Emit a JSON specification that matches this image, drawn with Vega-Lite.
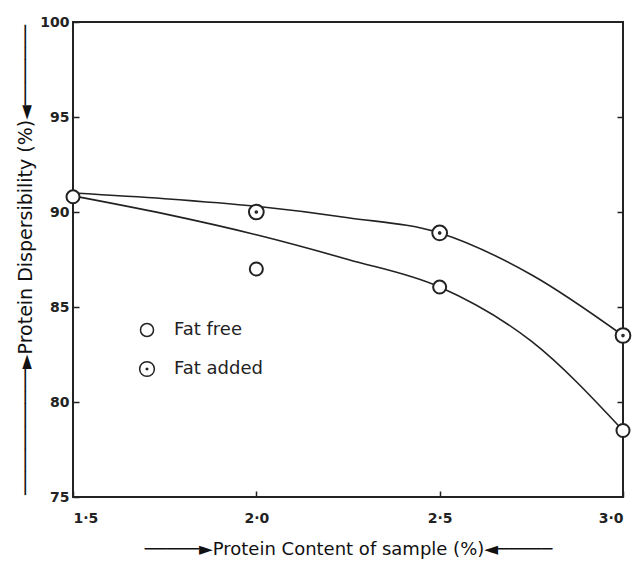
{
  "$schema": "https://vega.github.io/schema/vega-lite/v6.json",
  "width": 550,
  "height": 475,
  "autosize": {"type": "none"},
  "padding": {"left": 73, "top": 22, "right": 14, "bottom": 67},
  "background": "white",
  "config": {
    "view": {"stroke": "#222", "strokeWidth": 2},
    "font": "DejaVu Sans",
    "axis": {"grid": false, "domain": false, "tickColor": "#222", "labelColor": "#222", "titleColor": "#111", "labelFont": "DejaVu Sans", "titleFont": "DejaVu Sans"}
  },
  "datasets": {
    "points": [
      {"x": 1.5, "y": 90.8, "series": "Fat free"},
      {"x": 2.0, "y": 87.0, "series": "Fat free"},
      {"x": 2.5, "y": 86.05, "series": "Fat free"},
      {"x": 3.0, "y": 78.5, "series": "Fat free"},
      {"x": 2.0, "y": 90.0, "series": "Fat added"},
      {"x": 2.5, "y": 88.9, "series": "Fat added"},
      {"x": 3.0, "y": 83.5, "series": "Fat added"}
    ],
    "curves": [
      {"x": 1.5, "y": 90.85, "series": "Fat free"},
      {"x": 1.75, "y": 89.9, "series": "Fat free"},
      {"x": 2.0, "y": 88.8, "series": "Fat free"},
      {"x": 2.25, "y": 87.5, "series": "Fat free"},
      {"x": 2.5, "y": 86.05, "series": "Fat free"},
      {"x": 2.75, "y": 83.2, "series": "Fat free"},
      {"x": 3.0, "y": 78.5, "series": "Fat free"},
      {"x": 1.5, "y": 91.0, "series": "Fat added"},
      {"x": 1.75, "y": 90.7, "series": "Fat added"},
      {"x": 2.0, "y": 90.3, "series": "Fat added"},
      {"x": 2.25, "y": 89.7, "series": "Fat added"},
      {"x": 2.5, "y": 88.9, "series": "Fat added"},
      {"x": 2.75, "y": 86.7, "series": "Fat added"},
      {"x": 3.0, "y": 83.5, "series": "Fat added"}
    ]
  },
  "layer": [
    {
      "data": {"name": "curves"},
      "mark": {"type": "line", "interpolate": "monotone", "color": "#222", "strokeWidth": 1.6},
      "encoding": {
        "x": {"field": "x", "type": "quantitative", "scale": {"domain": [1.5, 3.0], "nice": false},
          "axis": {"values": [1.5, 2.0, 2.5, 3.0], "tickSize": -6, "tickWidth": 1.5, "labelPadding": 20, "labelFontSize": 14, "labelFontWeight": "bold",
            "labelExpr": "replace(format(datum.value,'.1f'),'.','·')",
            "title": "─────►Protein Content of sample (%)◄─────", "titleFontSize": 18, "titleFontWeight": "normal", "titlePadding": 15}},
        "y": {"field": "y", "type": "quantitative", "scale": {"domain": [75, 100], "nice": false, "zero": false},
          "axis": {"values": [75, 80, 85, 90, 95, 100], "tickSize": -6, "tickWidth": 1.5, "labelPadding": 10, "labelFontSize": 14, "labelFontWeight": "bold",
            "title": "───────────►Protein Dispersibility (%)◄───────", "titleFontSize": 19, "titleFontWeight": "normal", "titlePadding": 4}},
        "detail": {"field": "series"}
      }
    },
    {
      "data": {"name": "points"},
      "mark": {"type": "point", "filled": true, "fill": "white", "stroke": "#222", "strokeWidth": 2, "size": 170, "opacity": 1},
      "encoding": {
        "x": {"field": "x", "type": "quantitative"},
        "y": {"field": "y", "type": "quantitative", "axis": {"orient": "right", "values": [80, 85, 90, 95], "tickSize": -6, "tickWidth": 1.5, "labels": false, "title": null}},
        "shape": {"field": "series", "type": "nominal",
          "scale": {"domain": ["Fat free", "Fat added"], "range": ["circle", "M-1.13,0A1.13,1.13,0,1,1,1.13,0A1.13,1.13,0,1,1,-1.13,0ZM-0.12,0A0.12,0.12,0,1,1,0.12,0A0.12,0.12,0,1,1,-0.12,0Z"]},
          "legend": {"orient": "none", "legendX": 65, "legendY": 299, "title": null, "symbolSize": 170,
            "labelFontSize": 18, "labelColor": "#222", "labelOffset": 18, "rowPadding": 18, "labelFont": "DejaVu Sans",
            "encode": {"symbols": {"update": {"fill": {"value": "white"}, "stroke": {"value": "#222"}, "strokeWidth": {"value": 2}, "opacity": {"value": 1}}}}}}
      }
    }
  ],
  "resolve": {"axis": {"y": "independent"}}
}
